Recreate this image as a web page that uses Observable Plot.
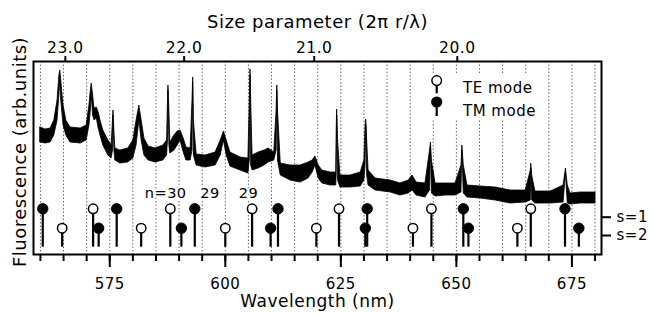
<!DOCTYPE html>
<html><head><meta charset="utf-8">
<script src="https://cdn.jsdelivr.net/npm/d3@7"></script>
<script src="https://cdn.jsdelivr.net/npm/@observablehq/plot@0.6"></script>
<style>
body{margin:0;background:#fff;}
#chart{position:relative;width:652px;height:313px;font-family:"DejaVu Sans",sans-serif;}
#chart svg text{letter-spacing:0.5px;}
#legend{position:absolute;left:0;top:0;pointer-events:none;}
</style></head><body><div id="chart"></div>
<script>
// Spectrum (wavelength in nm, lower / upper edge of the noisy trace, arb. units)
const wavelength = [560.0,561.1,562.2,563.0,563.7,564.1,564.3,564.5,565.0,565.6,566.5,568.7,570.0,570.6,570.9,571.1,571.4,571.7,572.2,572.6,573.0,573.6,574.7,575.4,575.7,575.8,576.0,576.2,577.3,579.0,580.1,580.8,581.4,581.9,582.5,583.4,584.9,586.6,587.4,587.6,587.7,587.9,588.1,589.0,589.7,590.3,591.0,591.6,592.5,592.9,593.05,593.2,593.8,595.7,597.9,599.0,599.7,600.3,601.1,603.3,605.0,605.3,605.45,605.6,605.9,607.2,608.5,609.4,610.6,611.1,611.25,611.4,612.0,614.1,616.3,618.0,618.9,619.5,620.2,621.0,622.8,624.0,624.1,624.2,624.4,624.9,627.1,629.3,630.1,630.35,630.5,630.7,631.0,632.5,635.8,637.9,639.7,640.5,641.4,643.3,644.3,644.5,644.7,645.5,647.7,649.8,651.1,651.3,651.6,652.4,655.2,658.5,661.7,665.0,666.1,666.2,666.4,667.1,670.4,673.2,673.7,674.1,674.7,676.9,680.1];
const fluorHigh = [127,125,126,134,154,179,184,174,149,134,127,126,129,149,164,171,159,146,147,142,134,124,114,109,134,144,124,106,104,106,114,134,149,134,116,108,106,109,114,154,169,144,112,119,123,124,116,107,106,154,177,134,100,99,102,114,123,114,102,97,96,154,185,154,99,102,104,106,102,144,169,144,91,89,89,92,94,98,89,84,82,82,124,145,114,79,79,82,94,129,135,114,84,76,74,71,74,79,72,71,104,112,94,71,71,71,89,109,89,69,68,67,64,64,84,91,79,63,63,69,86,69,61,62,62];
const fluorLow = [112,111,112,119,134,159,174,154,129,119,112,111,114,129,144,159,139,134,136,126,119,109,99,96,104,139,104,94,91,92,96,109,134,114,99,94,92,94,99,114,164,109,101,104,109,114,102,94,94,104,172,99,89,87,89,99,114,99,88,84,81,94,179,89,84,86,89,92,94,104,164,94,79,74,72,76,82,89,76,71,69,69,79,139,74,67,67,68,74,89,129,79,69,64,62,59,61,64,59,57,64,107,61,58,59,59,62,104,61,57,56,54,51,52,54,86,54,51,51,52,81,51,50,51,51];

// Mode positions (nm)
const teS1 = [571.4, 588.1, 605.8, 624.6, 644.6, 666.1];
const teS2 = [564.7, 581.8, 600.0, 619.7, 640.6, 663.2];
const tmS1 = [560.5, 576.5, 593.4, 611.4, 630.7, 651.5, 673.5];
const tmS2 = [572.6, 590.5, 609.8, 630.3, 652.6, 676.5];
const levelS1 = 45.7, levelS2 = 26.3, stemBase = 7.3;

// Annotations
const orderLabels = ["n=30", "29", "29"];
const orderLabelX = [587.1, 596.7, 605.0];
const orderLabelY = 60.7;

// Axes
const minorTicks = [560,565,570,575,580,585,590,595,600,605,610,615,620,625,630,635,640,645,650,655,660,665,670,675,680];
const majorTicks = [575, 600, 625, 650, 675];
const sizeParamTicks = [23.0, 22.0, 21.0, 20.0];
const twoPiR = 13004;
const sLabels = ["s=1", "s=2"];
const sTickValues = [37.3, 19.0];

const spec = wavelength.map((w, i) => ({w, lo: fluorLow[i], hi: fluorHigh[i]}));
const mk = (arr, type, lev) => arr.map(w => ({w, type, y: lev}));
const te = [...mk(teS1, "TE", levelS1), ...mk(teS2, "TE", levelS2)];
const tm = [...mk(tmS1, "TM", levelS1), ...mk(tmS2, "TM", levelS2)];
const modes = [...te, ...tm];
const labels = orderLabels.map((t, i) => ({t, x: orderLabelX[i], y: orderLabelY}));

const fs = 15;
const plot = Plot.plot({
  width: 652, height: 313,
  marginLeft: 33, marginRight: 51, marginTop: 61, marginBottom: 59,
  style: {fontFamily: "DejaVu Sans", fontSize: fs + "px", color: "black", background: "white"},
  x: {domain: [558.5, 681.4]},
  y: {domain: [0, 193]},
  marks: [
    Plot.gridX(minorTicks, {stroke: "#666", strokeOpacity: 1, strokeWidth: 1, strokeDasharray: "1.5,2"}),
    Plot.areaY(spec, {x: "w", y1: "lo", y2: "hi", fill: "black", stroke: "black", strokeWidth: 0.8}),
    Plot.ruleX(modes, {x: "w", y1: stemBase, y2: "y", stroke: "black", strokeWidth: 2.2}),
    Plot.dot(te, {x: "w", y: "y", r: 4.7, fill: "white", stroke: "black", strokeWidth: 1.5}),
    Plot.dot(tm, {x: "w", y: "y", r: 5.2, fill: "black", stroke: "black", strokeWidth: 1}),
    Plot.text(labels, {x: "x", y: "y", text: "t", fontSize: 14.5, fill: "black", stroke: "white", strokeWidth: 4}),
    Plot.axisX(minorTicks, {anchor: "bottom", tickSize: 7, tickFormat: () => "", strokeWidth: 2, label: null}),
    Plot.axisX(majorTicks, {anchor: "bottom", tickSize: 13, tickPadding: 11, strokeWidth: 2, fontSize: fs, label: null}),
    Plot.axisX(sizeParamTicks.map(s => twoPiR / s), {anchor: "top", tickSize: 6, tickPadding: 3, strokeWidth: 2, fontSize: 15.5, label: null,
      tickFormat: d => (twoPiR / d).toFixed(1)}),
    Plot.axisY(sTickValues, {anchor: "right", tickSize: 9, tickPadding: 6, strokeWidth: 2, fontSize: fs, label: null,
      tickFormat: d => sLabels[sTickValues.indexOf(d)]}),
    Plot.frame({stroke: "black", strokeWidth: 2}),
    Plot.text(["Size parameter (2\u03c0 r/\u03bb)"], {frameAnchor: "top", lineAnchor: "middle", dy: -39, text: d => d, fontSize: 18}),
    Plot.text(["Wavelength (nm)"], {frameAnchor: "bottom", lineAnchor: "middle", dy: 47.5, text: d => d, fontSize: 17}),
    Plot.text(["Fluorescence (arb.units)"], {frameAnchor: "left", textAnchor: "middle", lineAnchor: "middle", rotate: -90, dx: -13, dy: -6, text: d => d, fontSize: 18})
  ]
});
const chart = document.getElementById("chart");
chart.appendChild(plot);

// Legend overlay
const ns = "http://www.w3.org/2000/svg";
const lg = document.createElementNS(ns, "svg");
lg.setAttribute("id", "legend");
lg.setAttribute("width", 652); lg.setAttribute("height", 313);
lg.innerHTML = `
 <rect x="427" y="74" width="113" height="45" fill="white"/>
 <line x1="436.7" y1="84" x2="436.7" y2="93.3" stroke="black" stroke-width="2.2"/>
 <circle cx="436.7" cy="80.6" r="4.8" fill="white" stroke="black" stroke-width="1.5"/>
 <line x1="436.7" y1="102" x2="436.7" y2="116" stroke="black" stroke-width="2.2"/>
 <circle cx="436.7" cy="102" r="5.6" fill="black"/>
 <text x="463" y="88" dy="0.35em" font-size="15" font-family="DejaVu Sans" style="letter-spacing:0.5px">TE mode</text>
 <text x="463" y="110.5" dy="0.35em" font-size="15" font-family="DejaVu Sans" style="letter-spacing:0.5px">TM mode</text>`;
chart.appendChild(lg);
</script></body></html>
